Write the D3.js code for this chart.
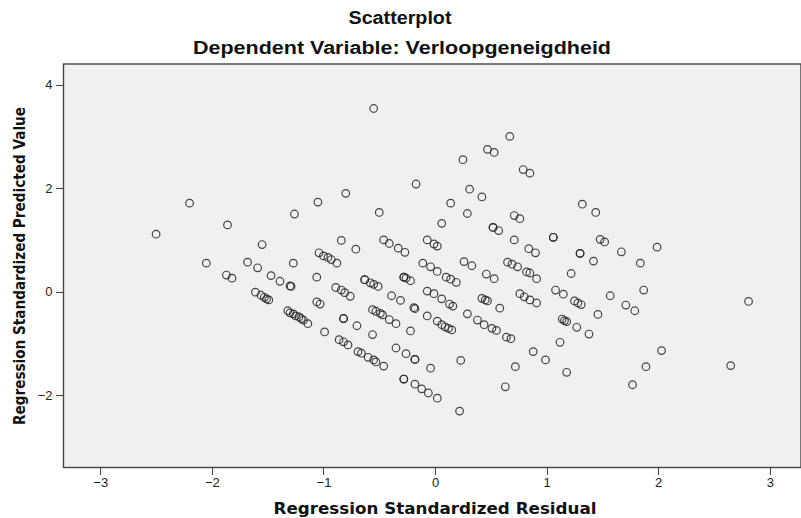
<!DOCTYPE html>
<meta charset="utf-8">
<style>
body { margin: 0; background: #fff; }
svg { display: block; font-family: "Liberation Sans", Arial, sans-serif; }
.dot { fill: none; stroke: #262626; stroke-opacity: .85; stroke-width: 1.2; }
.axis path, .axis line { stroke: #444; fill: none; shape-rendering: crispEdges; }
.axis text { font-size: 13px; fill: #222; }
.title { font-weight: bold; font-size: 18px; fill: #111; }
.atitle { font-family: "DejaVu Sans", Verdana, sans-serif; font-weight: bold; font-size: 16px; fill: #111; }
</style>
<body>
<div id="chart"></div>
<script src="https://cdn.jsdelivr.net/npm/d3@7"></script>
<script>

// regression standardized residual (x) and predicted value (y), one pair per case
var residual = [
  -2.20, -2.50, -1.86, -1.26, -1.55, -2.05, -1.68, -1.59, -1.27, -1.87,
  -1.82, -1.47, -1.39, -1.30, -1.29, -1.61, -1.56, -1.53, -1.51, -1.49,
  -1.32, -1.30, -1.27, -1.25, -1.22, -1.20, -1.18, -1.14, -0.55, 0.67,
  0.47, 0.53, 0.25, 0.79, 0.85, -0.17, 0.31, 0.42, -1.05, -0.80,
  -0.50, 0.14, 0.29, 0.06, 0.71, 0.76, 0.52, 0.52, 0.57, 0.71,
  0.84, 0.90, 1.06, 1.06, -0.84, -0.71, -0.46, -0.41, -0.33, -0.27,
  -0.07, -0.01, 0.02, -1.04, -1.00, -0.96, -0.93, -0.88, -1.06, -0.89,
  -0.84, -0.81, -0.76, -0.63, -0.63, -0.58, -0.55, -0.51, -0.28, -0.28,
  -0.26, -0.22, -0.11, -0.04, 0.02, 0.10, 0.14, 0.19, 0.26, 0.33,
  0.46, 0.53, 0.65, 0.69, 0.74, 0.82, 0.85, 0.91, -0.07, -0.01,
  0.06, 0.13, 0.16, -1.06, -1.03, -0.39, -0.31, -0.19, -0.18, -0.56,
  -0.53, -0.49, -0.47, -0.41, -0.35, -0.07, 0.02, 0.06, 0.09, 0.12,
  0.15, 0.29, 0.38, 0.44, 0.51, 0.55, 0.42, 0.45, 0.47, 0.58,
  0.64, 0.68, 0.76, 0.80, 0.85, 0.91, -0.99, -0.82, -0.82, -0.70,
  -0.56, -0.86, -0.82, -0.78, -0.69, -0.66, -0.60, -0.55, -0.53, -0.46,
  -0.22, -0.35, -0.26, -0.18, -0.18, -0.04, 0.23, -0.28, -0.28, -0.18,
  -0.12, -0.06, 0.02, 0.22, 0.88, 0.99, 0.72, 0.63, 1.32, 1.44,
  1.48, 1.52, 1.99, 1.67, 1.30, 1.30, 1.42, 1.84, 1.22, 1.08,
  1.15, 1.25, 1.28, 1.31, 1.57, 1.87, 1.71, 1.79, 2.81, 1.46,
  1.14, 1.16, 1.18, 1.27, 1.38, 1.12, 2.03, 1.18, 1.89, 2.65,
  1.77
];
var predicted = [
  1.71, 1.11, 1.29, 1.50, 0.91, 0.55, 0.57, 0.46, 0.55, 0.32,
  0.26, 0.31, 0.20, 0.11, 0.10, -0.01, -0.07, -0.11, -0.14, -0.16,
  -0.37, -0.41, -0.43, -0.47, -0.49, -0.52, -0.55, -0.62, 3.54, 3.00,
  2.75, 2.69, 2.55, 2.36, 2.29, 2.08, 1.98, 1.83, 1.73, 1.90,
  1.53, 1.71, 1.51, 1.32, 1.47, 1.41, 1.24, 1.24, 1.18, 1.00,
  0.83, 0.75, 1.05, 1.05, 0.99, 0.82, 1.00, 0.93, 0.84, 0.76,
  1.00, 0.92, 0.88, 0.75, 0.69, 0.66, 0.62, 0.55, 0.28, 0.08,
  0.03, -0.02, -0.09, 0.23, 0.23, 0.17, 0.14, 0.10, 0.28, 0.28,
  0.26, 0.21, 0.55, 0.48, 0.39, 0.28, 0.24, 0.18, 0.58, 0.50,
  0.34, 0.25, 0.57, 0.53, 0.48, 0.38, 0.36, 0.25, 0.01, -0.04,
  -0.14, -0.24, -0.28, -0.20, -0.24, -0.08, -0.17, -0.31, -0.33, -0.35,
  -0.38, -0.42, -0.45, -0.54, -0.62, -0.47, -0.57, -0.64, -0.68, -0.71,
  -0.74, -0.43, -0.55, -0.64, -0.71, -0.75, -0.13, -0.16, -0.18, -0.32,
  -0.88, -0.91, -0.04, -0.10, -0.16, -0.22, -0.78, -0.52, -0.52, -0.66,
  -0.83, -0.93, -0.97, -1.03, -1.16, -1.19, -1.27, -1.32, -1.36, -1.44,
  -0.76, -1.09, -1.20, -1.31, -1.31, -1.48, -1.33, -1.69, -1.69, -1.79,
  -1.88, -1.96, -2.06, -2.31, -1.16, -1.32, -1.45, -1.84, 1.69, 1.53,
  1.01, 0.96, 0.86, 0.77, 0.74, 0.74, 0.59, 0.55, 0.35, 0.03,
  -0.05, -0.18, -0.22, -0.25, -0.08, 0.03, -0.26, -0.37, -0.19, -0.44,
  -0.53, -0.56, -0.58, -0.69, -0.82, -0.98, -1.14, -1.56, -1.45, -1.43,
  -1.80
];

var xTicks = [-3, -2, -1, 0, 1, 2, 3];
var yTicks = [-2, 0, 2, 4];

var W = 801, H = 518;
var box = {left: 63.5, top: 64, right: 801, bottom: 467.5};

var svg = d3.select("#chart").append("svg")
    .attr("width", W)
    .attr("height", H);

var x = d3.scaleLinear().domain([-3.33, 3.28]).range([box.left, box.right]);
var y = d3.scaleLinear().domain([-3.40, 4.40]).range([box.bottom, box.top]);

// plot background + frame
svg.append("rect")
    .attr("x", box.left).attr("y", box.top)
    .attr("width", box.right - box.left).attr("height", box.bottom - box.top)
    .attr("fill", "#f0f0f0")
    .attr("stroke", "#444")
    .attr("stroke-width", 1.4);

var xAxis = d3.axisBottom(x).tickValues(xTicks).tickSize(7).tickPadding(3).tickFormat(d3.format("d"));
var yAxis = d3.axisLeft(y).tickValues(yTicks).tickSize(8).tickPadding(3).tickFormat(d3.format("d"));

svg.append("g")
    .attr("class", "axis")
    .attr("transform", "translate(0," + box.bottom + ")")
    .call(xAxis)
    .call(function(g) { g.select(".domain").remove(); });

svg.append("g")
    .attr("class", "axis")
    .attr("transform", "translate(" + box.left + ",0)")
    .call(yAxis)
    .call(function(g) { g.select(".domain").remove(); });

// titles
svg.append("text")
    .attr("class", "title")
    .attr("x", 400).attr("y", 24)
    .attr("text-anchor", "middle")
    .attr("textLength", 103).attr("lengthAdjust", "spacingAndGlyphs")
    .text("Scatterplot");

svg.append("text")
    .attr("class", "title")
    .attr("x", 402).attr("y", 54)
    .attr("text-anchor", "middle")
    .attr("textLength", 418).attr("lengthAdjust", "spacingAndGlyphs")
    .text("Dependent Variable: Verloopgeneigdheid");

svg.append("text")
    .attr("class", "atitle")
    .attr("x", x(0)).attr("y", 514)
    .attr("text-anchor", "middle")
    .attr("textLength", 323).attr("lengthAdjust", "spacingAndGlyphs")
    .text("Regression Standardized Residual");

svg.append("text")
    .attr("class", "atitle")
    .attr("transform", "translate(25," + 266 + ") rotate(-90)")
    .attr("text-anchor", "middle")
    .attr("textLength", 318).attr("lengthAdjust", "spacingAndGlyphs")
    .text("Regression Standardized Predicted Value");

// points
var data = residual.map(function(r, i) { return {r: r, p: predicted[i]}; });

svg.append("g").selectAll("circle")
    .data(data)
  .enter().append("circle")
    .attr("class", "dot")
    .attr("r", 3.8)
    .attr("cx", function(d) { return x(d.r); })
    .attr("cy", function(d) { return y(d.p); });

</script>
</body>
